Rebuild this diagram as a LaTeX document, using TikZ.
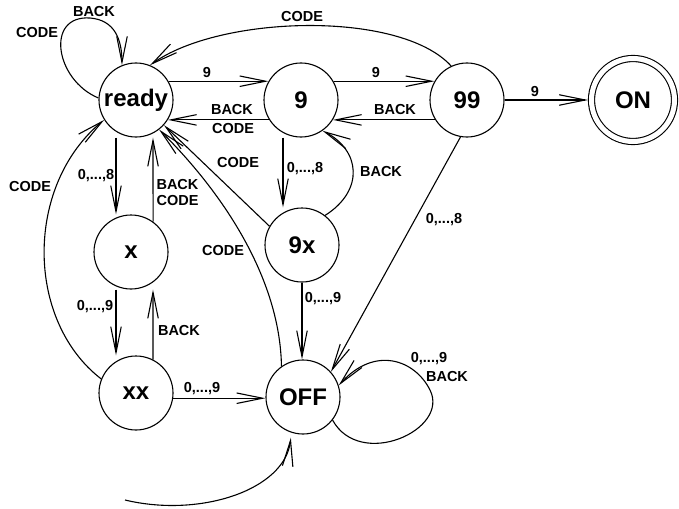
\documentclass[tikz,border=0pt]{standalone}
\usepackage{fontspec}
\setmainfont{Liberation Sans}
\usetikzlibrary{arrows.meta, calc}

\begin{document}
\begin{tikzpicture}[x=1pt, y=1pt, line width=1.1pt,
    state/.style={circle, draw, inner sep=0pt, minimum size=74pt,
                  font=\bfseries\fontsize{24}{24}\selectfont},
    accept/.style={state, minimum size=83pt, double, double distance=5pt, outer sep=3.5pt},
    lbl/.style={font=\bfseries\fontsize{14.5}{14.5}\selectfont, inner sep=0pt},
    arr/.style={-{Straight Barb[length=26pt, width=10.5pt, line width=1.1pt]}}]
    \useasboundingbox (0,0) rectangle (679,-508);

    % States
    \node[state] (ready) at (136,-100) {ready};
    \node[state] (n9)    at (301,-100) {9};
    \node[state] (n99)   at (467,-100) {99};
    \node[accept] (on)   at (633,-100) {ON};
    \node[state] (x)     at (131,-252) {x};
    \node[state] (xx)    at (136,-393) {xx};
    \node[state] (nx9)   at (302,-245) {9x};
    \node[state] (off)   at (303,-397) {OFF};

    % Columns for the vertical connectors
    \coordinate (colL) at (116,0);
    \coordinate (colR) at (153,0);
    \coordinate (colM) at (283,0);
    \coordinate (start) at (125,-500);

    % Top row
    \draw[arr] (ready.30) -- (n9.150);
    \draw[arr] (n9.212) -- (ready.-32);
    \draw[arr] (n9.30) -- (n99.150);
    \draw[arr] (n99.212) -- (n9.-32);
    \draw[arr] (n99.east) -- (on.west);
    \draw[arr] (n99.115) .. controls (400,-10) and (220,-15) .. (ready.68);
    \draw[arr] (ready.177) .. controls (55,-80) and (45,-15) .. (90,-18)
               .. controls (115,-20) and (122,-40) .. (ready.112);

    % Left column
    \draw[arr] (ready.south -| colL) -- (x.north -| colL);
    \draw[arr] (x.54) -- (ready.south -| colR);
    \draw[arr] (x.south -| colL) -- (xx.north -| colL);
    \draw[arr] (xx.63) -- (x.south -| colR);
    \draw[arr] (xx.158) .. controls (25,-320) and (25,-185) .. (ready.212);
    \draw[arr] (xx.-8) -- (xx.-8 -| off.west);

    % Middle column
    \draw[arr] (n9.south -| colM) -- (nx9.north -| colM);
    \draw[arr] (nx9.52) .. controls (365,-190) and (360,-150) .. (n9.-55);
    \draw[arr] (nx9.150) -- (ready.-42);
    \draw[arr] (nx9.south) -- (nx9.south |- off.north);
    \draw[arr] (off.125) .. controls (280,-280) and (225,-195) .. (ready.-52);
    \draw[arr] (n99.-100) -- (off.42);
    \draw[arr] (off.-38) .. controls (360,-470) and (450,-430) .. (430,-390)
               .. controls (415,-360) and (375,-345) .. (off.18);
    \draw[arr, shorten >=5pt] (start) .. controls (200,-518) and (285,-490) .. (off.-108);

    % Labels
    \node[lbl] (l-r9)    at (207,-73)  {9};
    \node[lbl] (l-9rb)   at (232,-110) {BACK};
    \node[lbl] (l-9rc)   at (233,-129) {CODE};
    \node[lbl] (l-999)   at (376,-73)  {9};
    \node[lbl] (l-999b)  at (395,-110) {BACK};
    \node[lbl] (l-on)    at (535,-92)  {9};
    \node[lbl] (l-99r)   at (302,-17)  {CODE};
    \node[lbl] (l-rrb)   at (94,-12)   {BACK};
    \node[lbl] (l-rrc)   at (37,-33)   {CODE};
    \node[lbl] (l-rx)    at (96,-176)  {0,...,8};
    \node[lbl, anchor=west] (l-xrb) at (156,-185) {BACK};
    \node[lbl, anchor=west] (l-xrc) at (156,-201) {CODE};
    \node[lbl] (l-xxx)   at (95,-307)  {0,...,9};
    \node[lbl] (l-xxb)   at (179,-331) {BACK};
    \node[lbl] (l-xxr)   at (30,-187)  {CODE};
    \node[lbl] (l-xxoff) at (202,-389) {0,...,9};
    \node[lbl] (l-offr)  at (223,-251) {CODE};
    \node[lbl] (l-9xr)   at (238,-163) {CODE};
    \node[lbl] (l-99x)   at (305,-169) {0,...,8};
    \node[lbl] (l-9x9)   at (381,-172) {BACK};
    \node[lbl] (l-9xoff) at (323,-299) {0,...,9};
    \node[lbl] (l-99off) at (444,-220) {0,...,8};
    \node[lbl] (l-offd)  at (429,-359) {0,...,9};
    \node[lbl] (l-offb)  at (447,-377) {BACK};
\end{tikzpicture}
\end{document}
